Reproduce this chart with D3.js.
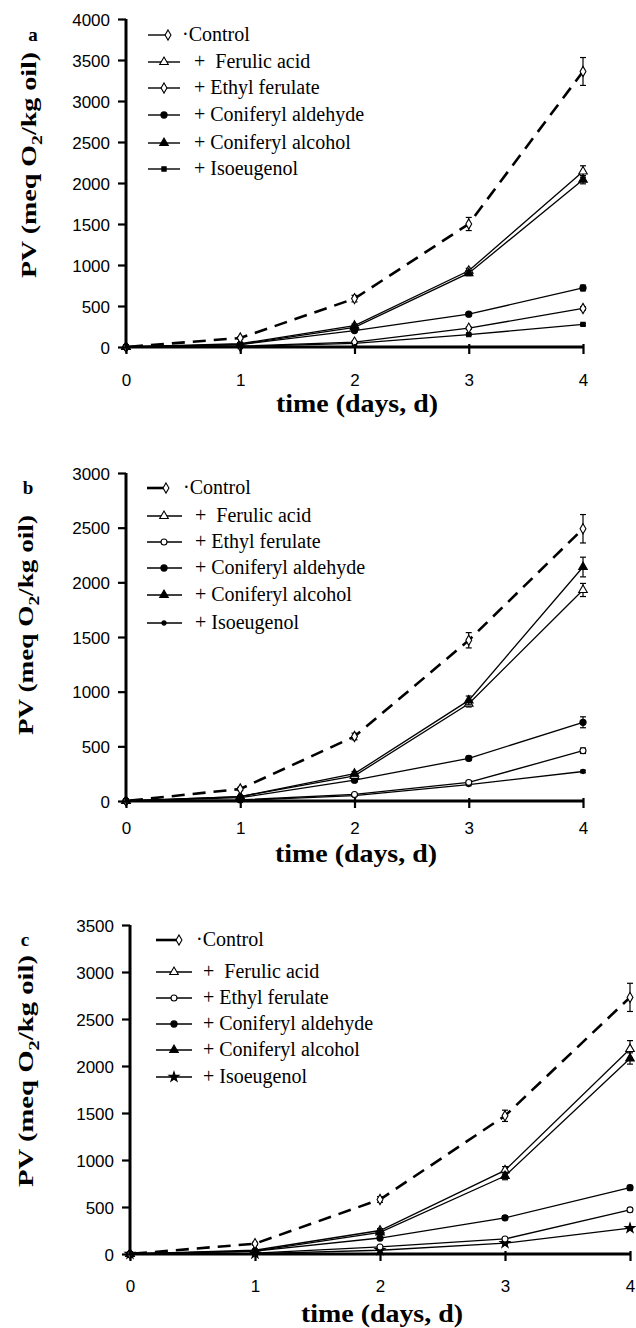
<!DOCTYPE html>
<html>
<head>
<meta charset="utf-8">
<script src="https://cdn.jsdelivr.net/npm/d3@7"></script>
<style>
  body { margin: 0; background: #fff; }
  svg { display: block; }
  text { white-space: pre; }
</style>
</head>
<body>
<div id="chart"></div>
<script>
// ---- data ----
const days = [0, 1, 2, 3, 4];
const seriesNames = ["Control", "Ferulic acid", "Ethyl ferulate", "Coniferyl aldehyde", "Coniferyl alcohol", "Isoeugenol"];
const legendLabels = ["\u00b7Control", "+  Ferulic acid", "+ Ethyl ferulate", "+ Coniferyl aldehyde", "+ Coniferyl alcohol", "+ Isoeugenol"];
const xTicks = [0, 1, 2, 3, 4];
const yTicksA = [0, 500, 1000, 1500, 2000, 2500, 3000, 3500, 4000];
const yTicksB = [0, 500, 1000, 1500, 2000, 2500, 3000];
const yTicksC = [0, 500, 1000, 1500, 2000, 2500, 3000, 3500];

// rows follow seriesNames order
const valuesA = [
  [0, 110, 590, 1500, 3360],
  [0, 40, 260, 930, 2140],
  [0, 10, 60, 230, 470],
  [0, 30, 200, 400, 720],
  [0, 30, 240, 900, 2040],
  [0, 5, 45, 150, 275]
];
const errorsA = [
  [0, 15, 40, 80, 170],
  [0, 5, 20, 30, 70],
  [0, 3, 10, 15, 20],
  [0, 5, 15, 20, 35],
  [0, 5, 20, 30, 50],
  [0, 2, 5, 10, 12]
];
const valuesB = [
  [0, 110, 590, 1470, 2490],
  [0, 40, 230, 890, 1930],
  [0, 10, 60, 170, 460],
  [0, 30, 190, 390, 720],
  [0, 40, 250, 920, 2140],
  [0, 5, 50, 150, 270]
];
const errorsB = [
  [0, 15, 30, 70, 130],
  [0, 5, 20, 30, 60],
  [0, 3, 8, 15, 25],
  [0, 5, 15, 20, 50],
  [0, 5, 20, 40, 90],
  [0, 2, 5, 10, 12]
];
const valuesC = [
  [0, 110, 580, 1470, 2730],
  [0, 40, 250, 890, 2180],
  [0, 10, 75, 160, 470],
  [0, 30, 170, 385, 705],
  [0, 30, 230, 830, 2080],
  [0, 5, 40, 115, 275]
];
const errorsC = [
  [0, 15, 30, 60, 150],
  [0, 5, 20, 40, 90],
  [0, 3, 8, 15, 20],
  [0, 5, 15, 20, 25],
  [0, 5, 20, 40, 60],
  [0, 2, 5, 10, 12]
];

// ---- layout ----
const W = 636, H = 1328;
const serif = "'Liberation Serif', 'Times New Roman', serif";
const sans = "'Liberation Sans', Arial, sans-serif";

const panels = [
  { letter: "a", letterPos: [33, 41], values: valuesA, errors: errorsA, yTicks: yTicksA,
    xRange: [126, 583], yRange: [347, 19], tickLabelEnd: 110, xTickBase: 386,
    ylab: { x: 36, cy: 165, len: 226 }, xlab: { cx: 357, y: 412 },
    legRows: [35, 62, 88, 115, 143, 169], leg: { x0: 148, x1: 180, cx: 164, ctrlEnd: 168, ctrlText: 182, tx: 194 },
    ethyl: "diamond", iso: "square" },
  { letter: "b", letterPos: [28, 494], values: valuesB, errors: errorsB, yTicks: yTicksB,
    xRange: [126, 583], yRange: [801, 473], tickLabelEnd: 110, xTickBase: 834,
    ylab: { x: 33, cy: 625, len: 220 }, xlab: { cx: 356, y: 862 },
    legRows: [488, 516, 542, 568, 595, 623], leg: { x0: 147, x1: 182, cx: 164, ctrlEnd: 166, ctrlText: 183, tx: 195 },
    ethyl: "circle", iso: "dot" },
  { letter: "c", letterPos: [25, 946], values: valuesC, errors: errorsC, yTicks: yTicksC,
    xRange: [130, 630], yRange: [1254, 925], tickLabelEnd: 114, xTickBase: 1292,
    ylab: { x: 33, cy: 1071, len: 232 }, xlab: { cx: 382, y: 1322 },
    legRows: [940, 972, 998, 1024, 1050, 1077], leg: { x0: 156, x1: 192, cx: 174, ctrlEnd: 179, ctrlText: 196, tx: 203 },
    ethyl: "circle", iso: "star" }
];

const svg = d3.select("#chart").append("svg")
  .attr("width", W)
  .attr("height", H);

// marker drawing
function drawMarker(g, kind, x, y) {
  const symbols = {
    diamond: [d3.symbolDiamond, 30, false],
    triangleOpen: [d3.symbolTriangle, 32, false],
    triangle: [d3.symbolTriangle, 32, true],
    circle: [d3.symbolCircle, 28, false],
    fcircle: [d3.symbolCircle, 30, true],
    square: [d3.symbolSquare, 18, true],
    dot: [d3.symbolCircle, 14, true],
    star: [d3.symbolStar, 30, true]
  };
  const s = symbols[kind];
  g.append("path")
    .attr("d", d3.symbol().type(s[0]).size(s[1])())
    .attr("transform", "translate(" + x + "," + y + ")")
    .attr("fill", s[2] ? "#000" : "#fff")
    .attr("stroke", "#000")
    .attr("stroke-width", 1.1);
}

panels.forEach(p => {
  const g = svg.append("g");
  const x = d3.scaleLinear().domain([0, 4]).range(p.xRange);
  const yMax = p.yTicks[p.yTicks.length - 1];
  const y = d3.scaleLinear().domain([0, yMax]).range(p.yRange);
  const markerKinds = ["diamond", "triangleOpen", p.ethyl, "fcircle", "triangle", p.iso];
  const order = [5, 2, 3, 1, 4, 0]; // control drawn last

  // ---- series lines ----
  const line = d3.line().x((d, i) => x(days[i])).y(d => y(d));
  order.forEach(si => {
    g.append("path")
      .datum(p.values[si])
      .attr("d", line)
      .attr("fill", "none")
      .attr("stroke", "#000")
      .attr("stroke-width", si === 0 ? 2.6 : 1.3)
      .attr("stroke-dasharray", si === 0 ? "13,8" : null)
      .attr("stroke-dashoffset", si === 0 ? -4 : null);
  });

  // ---- error bars + markers ----
  order.forEach(si => {
    p.values[si].forEach((v, i) => {
      const e = p.errors[si][i];
      const cx = x(days[i]);
      if (e > 0) {
        g.append("line")
          .attr("x1", cx).attr("x2", cx)
          .attr("y1", y(v - e)).attr("y2", y(v + e))
          .attr("stroke", "#000").attr("stroke-width", 1.2);
        [v - e, v + e].forEach(ev => {
          g.append("line")
            .attr("x1", cx - 3).attr("x2", cx + 3)
            .attr("y1", y(ev)).attr("y2", y(ev))
            .attr("stroke", "#000").attr("stroke-width", 1.2);
        });
      }
      drawMarker(g, markerKinds[si], cx, y(v));
    });
  });

  // ---- axes ----
  const yAxis = g.append("g")
    .attr("transform", "translate(" + p.xRange[0] + ",0)")
    .call(d3.axisLeft(y).tickValues(p.yTicks).tickSize(8).tickPadding(p.xRange[0] - p.tickLabelEnd - 8).tickFormat(d3.format("d")));
  yAxis.select(".domain").attr("stroke-width", 3).attr("d", "M0," + y(0) + "V" + y(yMax));
  yAxis.selectAll(".tick line").attr("stroke-width", 2.2);
  yAxis.selectAll("text")
    .attr("font-family", sans).attr("font-size", 17).attr("fill", "#000")
    .attr("dy", "0.36em");

  const xAxis = g.append("g")
    .attr("transform", "translate(0," + p.yRange[0] + ")")
    .call(d3.axisBottom(x).tickValues(xTicks).tickSize(7).tickFormat(d3.format("d")));
  xAxis.select(".domain").attr("stroke-width", 3).attr("d", "M" + p.xRange[0] + ",0H" + p.xRange[1]);
  xAxis.selectAll(".tick line").attr("stroke-width", 2.2).attr("y1", -3);
  xAxis.selectAll("text")
    .attr("font-family", sans).attr("font-size", 17).attr("fill", "#000")
    .attr("y", p.xTickBase - p.yRange[0]).attr("dy", 0);
  g.selectAll(".domain, .tick line").attr("stroke", "#000");

  // ---- axis titles ----
  const yl = g.append("text")
    .attr("transform", "translate(" + p.ylab.x + "," + p.ylab.cy + ") rotate(-90)")
    .attr("text-anchor", "middle")
    .attr("font-family", serif).attr("font-weight", "bold").attr("font-size", 21)
    .attr("textLength", p.ylab.len).attr("lengthAdjust", "spacingAndGlyphs");
  yl.append("tspan").text("PV (meq O");
  yl.append("tspan").attr("dy", 6).attr("font-size", 15).text("2");
  yl.append("tspan").attr("dy", -6).text("/kg oil)");

  g.append("text")
    .attr("x", p.xlab.cx).attr("y", p.xlab.y)
    .attr("text-anchor", "middle")
    .attr("font-family", serif).attr("font-weight", "bold").attr("font-size", 25)
    .attr("textLength", 162).attr("lengthAdjust", "spacingAndGlyphs")
    .text("time (days, d)");

  g.append("text")
    .attr("x", p.letterPos[0]).attr("y", p.letterPos[1])
    .attr("text-anchor", "middle")
    .attr("font-family", serif).attr("font-weight", "bold").attr("font-size", 19)
    .text(p.letter);

  // ---- legend ----
  seriesNames.forEach((name, si) => {
    const ry = p.legRows[si];
    if (si === 0) {
      g.append("line")
        .attr("x1", p.leg.x0).attr("x2", p.leg.ctrlEnd)
        .attr("y1", ry).attr("y2", ry)
        .attr("stroke", "#000").attr("stroke-width", p.letter === "a" ? 1.4 : 2.6);
      drawMarker(g, markerKinds[si], p.leg.ctrlEnd, ry);
    } else {
      g.append("line")
        .attr("x1", p.leg.x0).attr("x2", p.leg.x1)
        .attr("y1", ry).attr("y2", ry)
        .attr("stroke", "#000").attr("stroke-width", 1.4);
      drawMarker(g, markerKinds[si], p.leg.cx, ry);
    }
    g.append("text")
      .attr("x", si === 0 ? p.leg.ctrlText : p.leg.tx)
      .attr("y", ry + 6)
      .attr("font-family", serif).attr("font-size", 20)
      .text(legendLabels[si]);
  });
});
</script>
</body>
</html>
